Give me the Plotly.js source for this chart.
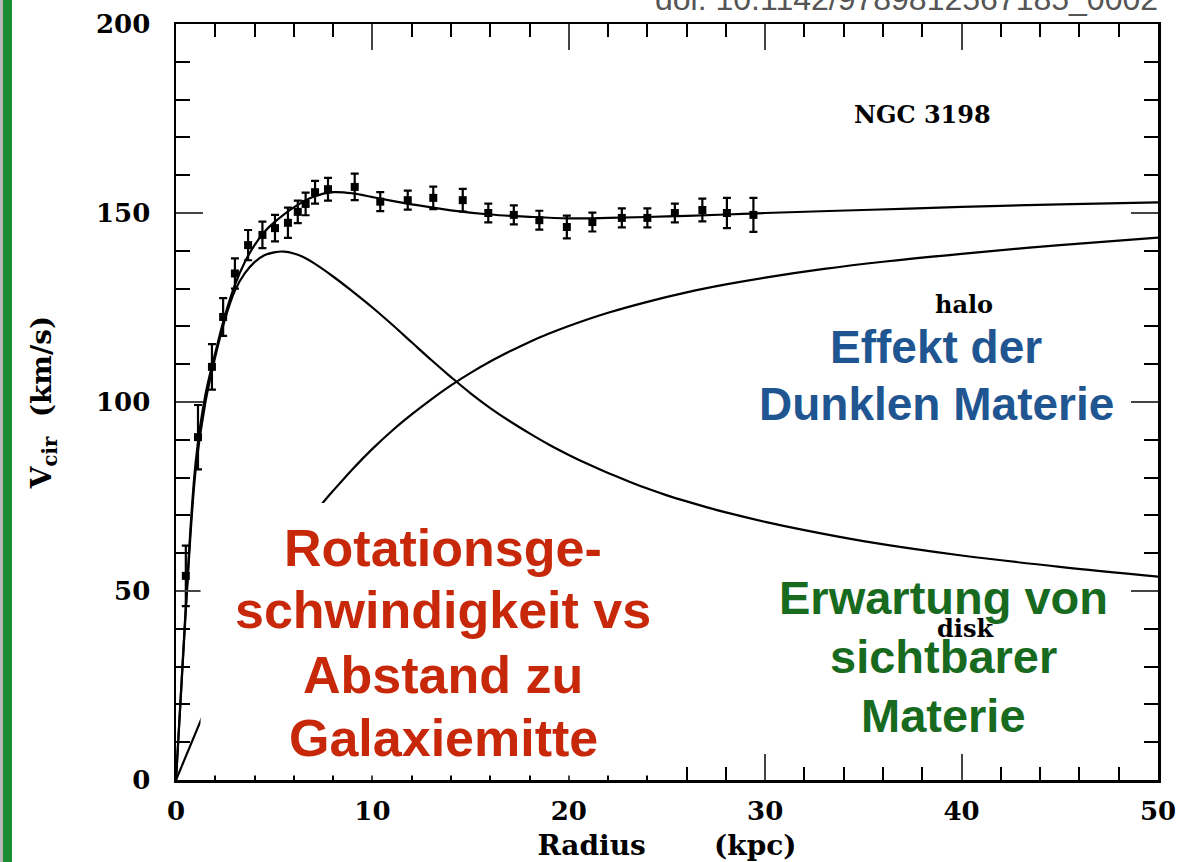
<!DOCTYPE html>
<html>
<head>
<meta charset="utf-8">
<script src="https://cdn.plot.ly/plotly-3.0.1.min.js"></script>
<style>
  html, body { margin: 0; padding: 0; background: #ffffff; }
  #chart { width: 1178px; height: 862px; }
</style>
</head>
<body>
<div id="chart"></div>
<script>
// Observed rotation curve of NGC 3198 (radius in kpc, velocity in km/s)
const radiusData = [0.5, 1.12, 1.83, 2.4, 3.0, 3.67, 4.4, 5.04, 5.7, 6.2, 6.6, 7.08, 7.74, 9.1, 10.4, 11.8, 13.1, 14.6, 15.9, 17.2, 18.5, 19.9, 21.2, 22.7, 24.0, 25.4, 26.8, 28.05, 29.4];
const velocityData = [54, 90.7, 109.3, 122.5, 134, 141.5, 144.2, 146, 147.4, 150.3, 152.4, 155.5, 156.3, 156.9, 153, 153.4, 154, 153.4, 150, 149.5, 148.1, 146.3, 147.6, 148.7, 148.7, 150, 150.8, 150, 149.5];
const velocityErr = [8, 8.5, 6, 5, 4, 4, 3.5, 3.5, 4, 3, 3, 3, 3, 3.5, 2.5, 2.5, 3, 3, 2.5, 2.5, 2.5, 3, 2.5, 2.5, 2.5, 2.5, 3, 4, 4.5];

// Model fit (total)
const radiusTotal = [0, 0.5, 1, 1.5, 2, 2.5, 3, 3.5, 4, 4.5, 5, 6, 7, 8, 9, 10, 11, 12, 14, 16, 18, 20, 22, 25, 28, 30, 35, 40, 45, 50];
const velocityTotal = [0, 46, 84, 102, 113, 123, 131, 137, 141.5, 145, 147.5, 151.5, 154.3, 155.5, 155.2, 154.2, 153.2, 152.3, 150.7, 149.6, 149, 148.6, 148.7, 149.1, 149.6, 150, 150.8, 151.6, 152.3, 152.8];

// Disk component
const radiusDisk = [0, 0.5, 1, 1.5, 2, 2.5, 3, 3.5, 4, 4.5, 5, 5.5, 6, 6.5, 7, 8, 9, 10, 11, 12, 13, 14, 15, 16, 17, 18, 19, 20, 21, 22, 23, 24, 25, 26, 27, 28, 30, 32, 35, 40, 45, 50];
const velocityDisk = [0, 45, 82, 100, 112, 122, 129.5, 134, 137, 138.8, 139.6, 139.8, 139.3, 138.3, 136.8, 133.2, 129.2, 125, 120.5, 115.8, 111.1, 106.6, 102.3, 98.4, 94.9, 91.7, 88.7, 86, 83.5, 81.2, 79.1, 77.1, 75.3, 73.7, 72.2, 70.8, 68.3, 66.1, 63.2, 59.4, 56.4, 53.8];

// Halo component
const radiusHalo = [0, 1.2, 2, 4, 6, 7.5, 8, 9, 10, 11, 12, 13, 14, 15, 16, 17, 18, 19, 20, 22, 24, 26, 28, 30, 33, 36, 40, 45, 50];
const velocityHalo = [0, 15, 25, 47, 64, 73.5, 76.5, 82.3, 87.6, 92.4, 96.7, 100.7, 104.4, 107.7, 110.7, 113.4, 115.9, 118.1, 120.1, 123.6, 126.5, 129, 131.1, 132.9, 135.2, 137.1, 139.2, 141.5, 143.5];

const xTickVals = [0, 10, 20, 30, 40, 50];
const yTickVals = [0, 50, 100, 150, 200];

const oldFont = 'DejaVu Serif';
const sansBold = 'Liberation Sans';

const lineStyle = {color: '#000', width: 2.2, shape: 'spline', smoothing: 1};

const traces = [
  {x: radiusHalo, y: velocityHalo, mode: 'lines', line: lineStyle, hoverinfo: 'skip', showlegend: false},
  {x: radiusDisk, y: velocityDisk, mode: 'lines', line: lineStyle, hoverinfo: 'skip', showlegend: false},
  {x: radiusTotal, y: velocityTotal, mode: 'lines', line: lineStyle, hoverinfo: 'skip', showlegend: false},
  {x: radiusData, y: velocityData, mode: 'markers',
   marker: {symbol: 'square', size: 8, color: '#000'},
   error_y: {type: 'data', array: velocityErr, visible: true, color: '#000', thickness: 2.2, width: 4},
   showlegend: false}
];

const textAnn = (txt, x, y, color, size) => ({
  text: txt, x: x, y: y, xref: 'x', yref: 'y', showarrow: false,
  xanchor: 'center', yanchor: 'middle',
  font: {family: sansBold, size: size, color: color, weight: 'bold'}
});
const oldAnn = (txt, x, y, size) => ({
  text: txt, x: x, y: y, xref: 'x', yref: 'y', showarrow: false,
  xanchor: 'center', yanchor: 'middle',
  font: {family: oldFont, size: size, color: '#000', weight: 'bold'}
});

const red = '#c8280a';
const blue = '#1f5590';
const green = '#176a1e';

const layout = {
  width: 1178, height: 862,
  margin: {l: 176, r: 20, t: 24, b: 82},
  paper_bgcolor: '#fff', plot_bgcolor: '#fff',
  showlegend: false,
  xaxis: {
    range: [0, 50], tickvals: xTickVals, ticks: 'inside', ticklen: 26, tickwidth: 2,
    minor: {dtick: 2, ticks: 'inside', ticklen: 13, tickwidth: 2, tickcolor: '#000'},
    showline: true, linewidth: 2.5, linecolor: '#000', mirror: 'ticks',
    showgrid: false, zeroline: false, ticklabelstandoff: 6,
    tickfont: {family: oldFont, size: 26, color: '#000', weight: 'bold'},
    title: {text: 'Radius\u00A0\u00A0\u00A0\u00A0\u00A0\u00A0\u00A0(kpc)', standoff: 14,
            font: {family: oldFont, size: 28, color: '#000', weight: 'bold'}}
  },
  yaxis: {
    range: [0, 200], tickvals: yTickVals, ticks: 'inside', ticklen: 27, tickwidth: 2,
    minor: {dtick: 10, ticks: 'inside', ticklen: 14, tickwidth: 2, tickcolor: '#000'},
    showline: true, linewidth: 2.5, linecolor: '#000', mirror: 'ticks',
    showgrid: false, zeroline: false, ticklabelstandoff: 18,
    tickfont: {family: oldFont, size: 26, color: '#000', weight: 'bold'},
    title: {text: 'V<sub>cir</sub>\u00A0\u00A0(km/s)', standoff: 36,
            font: {family: oldFont, size: 28, color: '#000', weight: 'bold'}}
  },
  shapes: [
    {type: 'rect', xref: 'paper', yref: 'paper', x0: -0.1792, x1: -0.1762, y0: -0.2, y1: 1.2,
     fillcolor: '#b8b8b8', line: {width: 0}, layer: 'above'},
    {type: 'rect', xref: 'paper', yref: 'paper', x0: -0.1762, x1: -0.1670, y0: -0.2, y1: 1.2,
     fillcolor: '#1b8c31', line: {width: 0}, layer: 'above'},
    {type: 'rect', xref: 'x', yref: 'y', x0: 1.25, x1: 25.1, y0: 1.2, y1: 73.3,
     fillcolor: '#fff', line: {width: 0}, layer: 'above'}
  ],
  annotations: [
    oldAnn('NGC 3198', 38.0, 176, 24),
    oldAnn('halo', 40.1, 125.7, 24),
    oldAnn('disk', 40.2, 40.2, 24),
    textAnn('Rotationsge-', 13.6, 61.5, red, 52),
    textAnn('schwindigkeit vs', 13.6, 45, red, 52),
    textAnn('Abstand zu', 13.6, 27.8, red, 52),
    textAnn('Galaxiemitte', 13.6, 11.1, red, 52),
    textAnn('Effekt der', 38.7, 114.5, blue, 46),
    textAnn('Dunklen Materie', 38.7, 99.5, blue, 46),
    textAnn('Erwartung von', 39.1, 48.3, green, 47),
    textAnn('sichtbarer', 39.1, 32.8, green, 47),
    textAnn('Materie', 39.1, 17.1, green, 47),
    {text: 'doi: 10.1142/9789812567185_0002', xref: 'paper', yref: 'paper',
     x: 1.002, y: 1.033, xanchor: 'right', yanchor: 'middle', showarrow: false,
     font: {family: 'Liberation Sans', size: 32, color: '#555'}}
  ]
};

Plotly.newPlot('chart', traces, layout, {displayModeBar: false, staticPlot: true});
</script>
</body>
</html>
